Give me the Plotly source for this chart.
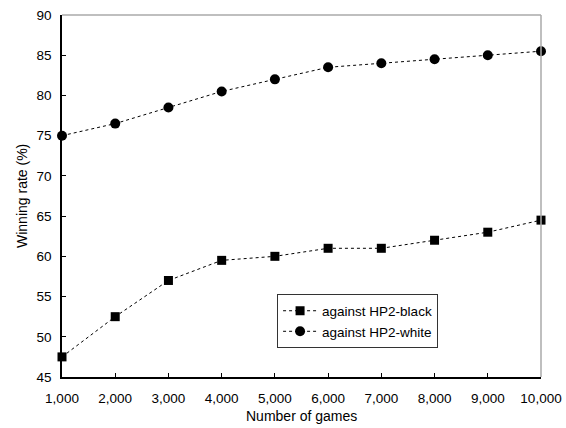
import plotly.graph_objects as go

games = [1000, 2000, 3000, 4000, 5000, 6000, 7000, 8000, 9000, 10000]
black_rate = [47.5, 52.5, 57, 59.5, 60, 61, 61, 62, 63, 64.5]
white_rate = [75, 76.5, 78.5, 80.5, 82, 83.5, 84, 84.5, 85, 85.5]
x_ticks = games
x_tick_labels = ["1,000", "2,000", "3,000", "4,000", "5,000", "6,000", "7,000", "8,000", "9,000", "10,000"]
y_ticks = [45, 50, 55, 60, 65, 70, 75, 80, 85, 90]

fig = go.Figure()
fig.add_trace(go.Scatter(
    x=games, y=black_rate, name="against HP2-black", mode="lines+markers",
    line=dict(color="black", width=1, dash="dot"),
    marker=dict(symbol="square", size=9, color="black"),
    cliponaxis=False,
))
fig.add_trace(go.Scatter(
    x=games, y=white_rate, name="against HP2-white", mode="lines+markers",
    line=dict(color="black", width=1, dash="dot"),
    marker=dict(symbol="circle", size=10, color="black"),
    cliponaxis=False,
))

font = dict(family="Liberation Sans, Arial, sans-serif", size=14, color="black")
tickfont = dict(family="Liberation Sans, Arial, sans-serif", size=13.5, color="black")
fig.update_layout(
    width=566, height=428,
    margin=dict(l=62, r=25, t=15, b=51, autoexpand=False),
    paper_bgcolor="white", plot_bgcolor="white",
    font=font,
    showlegend=True,
    legend=dict(x=0.449, y=0.228, xanchor="left", yanchor="top",
                bordercolor="#333333", borderwidth=1, bgcolor="white",
                font=dict(family="Liberation Sans, Arial, sans-serif", size=13.5, color="black"),
                tracegroupgap=0, itemwidth=34),
    shapes=[
        dict(type="line", xref="paper", yref="paper", x0=0, x1=1, y0=1, y1=1,
             line=dict(color="#aaaaaa", width=1.5)),
        dict(type="line", xref="paper", yref="paper", x0=1, x1=1, y0=0, y1=1,
             line=dict(color="#aaaaaa", width=1.5)),
    ],
    annotations=[
        dict(text="Number of games", xref="paper", yref="paper", x=0.5, y=0,
             yshift=-39, xanchor="center", yanchor="middle", showarrow=False, font=font),
        dict(text="Winning rate (%)", xref="paper", yref="paper", x=0, y=0.5,
             xshift=-40, xanchor="center", yanchor="middle", textangle=-90,
             showarrow=False, font=font),
    ],
)
fig.update_xaxes(
    range=[1000, 10000], tickvals=x_ticks, ticktext=x_tick_labels, tickfont=tickfont,
    showgrid=False, zeroline=False, showline=True, linecolor="black", linewidth=1.5,
    ticks="inside", ticklen=4, tickcolor="black", automargin=False,
    ticklabeloverflow="allow", ticklabelstandoff=8,
)
fig.update_yaxes(
    range=[45, 90], tickvals=y_ticks, tickfont=tickfont,
    showgrid=False, zeroline=False, showline=True, linecolor="black", linewidth=1.5,
    ticks="inside", ticklen=4, tickcolor="black", automargin=False,
    ticklabeloverflow="allow", ticklabelstandoff=6,
)
fig.write_html(
    "out.html",
    config={"displayModeBar": False},
    post_script="document.body.style.margin='0';document.body.style.overflow='hidden';",
)
